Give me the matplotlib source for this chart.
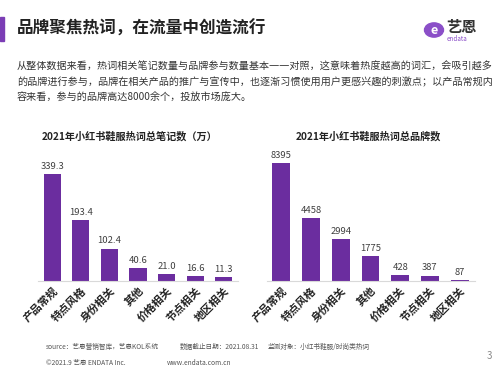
import matplotlib.pyplot as plt
from matplotlib.patches import Rectangle, Circle

plt.rcParams['font.family'] = ['Noto Sans CJK SC', 'DejaVu Sans']

categories = ["产品常规", "特点风格", "身份相关", "其他", "价格相关", "节点相关", "地区相关"]
notes = [339.3, 193.4, 102.4, 40.6, 21.0, 16.6, 11.3]
brands = [8395, 4458, 2994, 1775, 428, 387, 87]

title = "品牌聚焦热词，在流量中创造流行"
para = ["从整体数据来看，热词相关笔记数量与品牌参与数量基本一一对照，这意味着热度越高的词汇，会吸引越多",
        "的品牌进行参与，品牌在相关产品的推广与宣传中，也逐渐习惯使用用户更感兴趣的刺激点；以产品常规内",
        "容来看，参与的品牌高达8000余个，投放市场庞大。"]

PURPLE = "#6B2D9F"
W, H = 500, 375

fig = plt.figure(figsize=(5, 3.75), dpi=100)

def px(x, y):
    return x / W, 1 - y / H

# header
fig.patches.append(Rectangle(px(0, 41), 4 / W, 24 / H, transform=fig.transFigure,
                             color="#7B3DB5", zorder=1))
fig.text(*px(17, 29), title, fontsize=12, fontweight="bold", color="#222222", va="center")

# logo
fig.patches.append(Circle(px(434, 30), 9.5 / W, transform=fig.transFigure, color="#8B4FC8"))
fig.text(*px(434, 30), "e", fontsize=9, fontweight="bold", color="white", ha="center", va="center")
fig.text(*px(446, 27), "艺恩", fontsize=11, fontweight="bold", color="#333333", va="center")
fig.text(*px(447, 39), "endata", fontsize=4.5, color="#8B4FC8", va="center")

for i, line in enumerate(para):
    fig.text(*px(17, 67 + i * 15.5), line, fontsize=7.25, color="#333333", va="center")

def bar_chart(rect, values, fmt, ymax, ttl, tx):
    ax = fig.add_axes(rect)
    xs = range(len(values))
    ax.bar(xs, values, width=0.6, color=PURPLE, zorder=2)
    for x, v in zip(xs, values):
        ax.text(x, v + ymax * 0.025, fmt.format(v), ha="center", va="bottom",
                fontsize=6.8, color="#404040")
    ax.set_xlim(-0.5, len(values) - 0.5)
    ax.set_ylim(0, ymax)
    ax.set_yticks([])
    ax.set_xticks(list(xs))
    ax.set_xticklabels(categories, rotation=45, ha="right", va="top",
                       rotation_mode="anchor", fontsize=7.8, fontweight="bold", color="#222222")
    ax.tick_params(axis="x", length=0, pad=3)
    for s in ["top", "right", "left"]:
        ax.spines[s].set_visible(False)
    ax.spines["bottom"].set_color("#d9d9d9")
    ax.spines["bottom"].set_linewidth(0.8)
    ax.patch.set_alpha(0)
    fig.text(*px(tx, 136), ttl, fontsize=7.3, fontweight="bold", color="#222222",
             ha="center", va="center")

l, b = px(38, 281)
bar_chart([l, b, 200 / W, 130 / H], notes, "{:.1f}", 339.3 * 130 / 107,
          "2021年小红书鞋服热词总笔记数（万）", 130)
l, b = px(266.5, 281)
bar_chart([l, b, 208 / W, 130 / H], brands, "{}", 8395 * 130 / 118,
          "2021年小红书鞋服热词总品牌数", 368)

# footer
fc = "#555555"
fig.text(*px(46, 347), "source：艺恩营销智库，艺恩KOL系统", fontsize=4.8, color=fc, va="center")
fig.text(*px(180, 347), "数据截止日期：2021.08.31", fontsize=4.8, color=fc, va="center")
fig.text(*px(268, 347), "监测对象：小红书鞋服/时尚类热词", fontsize=4.8, color=fc, va="center")
fig.text(*px(46, 363), "©2021.9 艺恩 ENDATA Inc.", fontsize=4.8, color=fc, va="center")
fig.text(*px(167, 363), "www.endata.com.cn", fontsize=4.8, color=fc, va="center")
fig.text(*px(487, 356), "3", fontsize=7, color="#888888", va="center")

fig.savefig("out.png", dpi=100)
